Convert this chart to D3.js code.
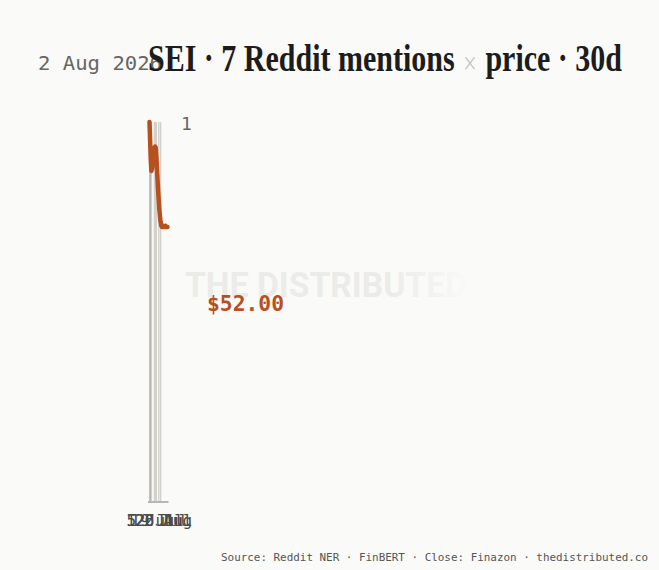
<!DOCTYPE html>
<html>
<head>
<meta charset="utf-8">
<script src="https://cdn.jsdelivr.net/npm/d3@7"></script>
<style>
  html, body { margin: 0; padding: 0; background: #fafaf8; }
  svg { display: block; }
</style>
</head>
<body>
<svg id="chart" width="659" height="570"></svg>
<script>
// ---- data ----
const ticker = "SEI";
const startDate = "2026-07-04";
const dayCount = 30;
const prices = [56.50, 55.70, 54.90, 54.40, 54.50, 54.80, 55.10, 55.30, 55.40, 55.45,
                55.40, 55.00, 54.50, 54.00, 53.50, 53.10, 52.70, 52.40, 52.20, 52.05,
                52.00, 52.05, 52.00, 52.05, 52.00, 52.00, 52.05, 52.00, 52.00, 52.00];
const mentions = [0, 1, 0, 1, 0, 0, 0, 0, 1, 0,
                  1, 1, 0, 0, 0, 1, 0, 0, 1, 0,
                  0, 0, 0, 0, 0, 0, 0, 0, 0, 0];
const sentiment = ["", "neg", "", "neu", "", "", "", "", "neu", "",
                   "neu", "neu", "", "", "", "neu", "", "", "neu", "",
                   "", "", "", "", "", "", "", "", "", ""];
const priceDomain = [40.2, 56.5];
const mentionMax = 1;
const sourceText = "Source: Reddit NER · FinBERT · Close: Finazon · thedistributed.co";

const parse = d3.timeParse("%Y-%m-%d");
const d0 = parse(startDate);
const dates = d3.range(dayCount).map(i => d3.timeDay.offset(d0, i));
const rows = dates.map((d, i) => ({ date: d, price: prices[i], mentions: mentions[i], sent: sentiment[i] }));
const totalMentions = d3.sum(mentions);

// ---- layout ----
const svg = d3.select("#chart");
const W = 659, H = 570;
const plot = { left: 149.5, right: 167.5, top: 122, bottom: 502 };
const mono = "'DejaVu Sans Mono', 'Liberation Mono', monospace";

svg.append("rect").attr("width", W).attr("height", H).attr("fill", "#fafaf8");

const x = d3.scaleTime().domain(d3.extent(dates)).range([plot.left, plot.right]);
const yP = d3.scaleLinear().domain(priceDomain).range([plot.bottom, plot.top]);
const yM = d3.scaleLinear().domain([0, mentionMax]).range([plot.bottom, plot.top]);

// watermark
const defs = svg.append("defs");
const grad = defs.append("linearGradient").attr("id", "wm").attr("gradientUnits", "userSpaceOnUse")
  .attr("x1", 185).attr("x2", 468).attr("y1", 0).attr("y2", 0);
grad.append("stop").attr("offset", "0").attr("stop-color", "#ebebe8");
grad.append("stop").attr("offset", "0.72").attr("stop-color", "#ebebe8");
grad.append("stop").attr("offset", "1").attr("stop-color", "#ebebe8").attr("stop-opacity", 0.05);
svg.append("text")
  .attr("x", 185).attr("y", 297)
  .attr("font-family", "Roboto, 'Liberation Sans', sans-serif")
  .attr("font-weight", 700).attr("font-size", 35)
  .attr("textLength", 282).attr("lengthAdjust", "spacingAndGlyphs")
  .attr("fill", "url(#wm)")
  .text("THE DISTRIBUTED");

// header date
svg.append("text")
  .attr("x", 38).attr("y", 70)
  .attr("font-family", mono).attr("font-size", 19)
  .attr("fill", "#666")
  .attr("textLength", 124).attr("lengthAdjust", "spacingAndGlyphs")
  .text(d3.timeFormat("%-d %b %Y")(dates[dates.length - 1]));

// title
const title = svg.append("text")
  .attr("x", 148).attr("y", 71)
  .attr("font-family", "'Liberation Serif', 'DejaVu Serif', serif")
  .attr("font-weight", 700).attr("font-size", 38)
  .attr("fill", "#1c1c1c")
  .attr("textLength", 474).attr("lengthAdjust", "spacingAndGlyphs");
title.append("tspan").text(`${ticker} · ${totalMentions} Reddit mentions `);
title.append("tspan").attr("fill", "#bdbdbd").attr("font-weight", 300).attr("font-size", 24)
  .attr("font-family", "'DejaVu Sans', sans-serif").text("×");
title.append("tspan").text(" price · 30d");

// mention bars
svg.append("g").selectAll("rect")
  .data(rows.filter(r => r.mentions > 0))
  .join("rect")
  .attr("x", r => x(r.date) - 0.7)
  .attr("width", 1.4)
  .attr("y", r => yM(r.mentions))
  .attr("height", r => yM(0) - yM(r.mentions))
  .attr("fill", r => r.sent === "neg" ? "#9a9891" : "#d2d1cc");

// baseline
svg.append("line")
  .attr("x1", plot.left - 1.5).attr("x2", plot.right + 1)
  .attr("y1", plot.bottom).attr("y2", plot.bottom)
  .attr("stroke", "#b8b7b2").attr("stroke-width", 2);

// price line
svg.append("path")
  .datum(rows)
  .attr("fill", "none")
  .attr("stroke", "#b8501d")
  .attr("stroke-width", 4.5)
  .attr("stroke-linejoin", "round")
  .attr("stroke-linecap", "round")
  .attr("d", d3.line().x(r => x(r.date)).y(r => yP(r.price)));

// mention max label
svg.append("text")
  .attr("x", plot.right + 13.5).attr("y", yM(mentionMax))
  .attr("dy", "0.45em")
  .attr("font-family", mono).attr("font-size", 18)
  .attr("fill", "#666")
  .text(d3.format("d")(mentionMax));

// last price label
svg.append("text")
  .attr("x", 207).attr("y", 311)
  .attr("font-family", mono).attr("font-size", 20.5).attr("font-weight", 700)
  .attr("textLength", 77).attr("lengthAdjust", "spacingAndGlyphs")
  .attr("fill", "#b8501d")
  .text(d3.format("$.2f")(prices[prices.length - 1]));

// x axis
const xAxis = d3.axisBottom(x)
  .ticks(d3.timeWeek.every(1))
  .tickSize(0)
  .tickFormat(d3.timeFormat("%-d %b"));
const gx = svg.append("g").attr("transform", `translate(0,${plot.bottom + 10})`).call(xAxis);
gx.select(".domain").remove();
gx.selectAll("text")
  .attr("font-family", mono).attr("font-size", 16)
  .attr("fill", "#4a4a4a");

// source
svg.append("text")
  .attr("x", 648).attr("y", 561)
  .attr("text-anchor", "end")
  .attr("font-family", mono).attr("font-size", 11)
  .attr("textLength", 427).attr("lengthAdjust", "spacingAndGlyphs")
  .attr("fill", "#555")
  .text(sourceText);
</script>
</body>
</html>
